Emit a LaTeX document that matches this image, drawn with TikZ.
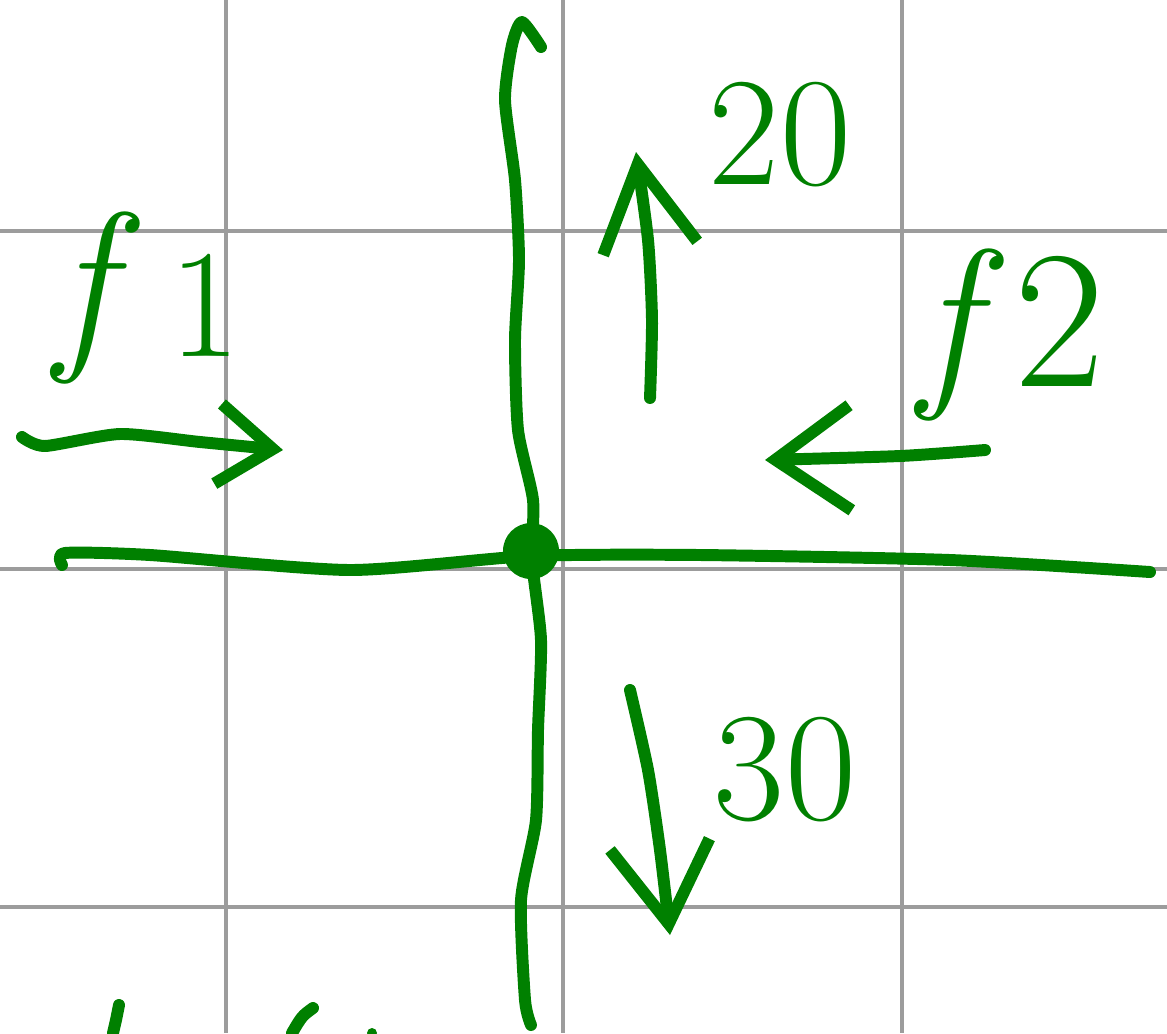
\documentclass[tikz,border=0pt]{standalone}
\usepackage{tikz}
\usetikzlibrary{arrows.meta}
\definecolor{penGreen}{HTML}{008000}
\definecolor{gridGray}{HTML}{9C9C9C}

\begin{document}
\begin{tikzpicture}[x=0.01cm, y=-0.01cm,
    grid line/.style={gridGray, line width=1.4pt},
    ink/.style={penGreen, line width=3.4pt, line cap=round, line join=round},
    force/.style 2 args={ink, -{Straight Barb[length=#1, width=#2, line width=3.4pt]}},
    hand/.style={penGreen, inner sep=0pt, font=\fontsize{44}{44}\selectfont}
  ]
  \useasboundingbox (0,0) rectangle (1167,1033);
  \fill[white] (0,0) rectangle (1167,1033);

  % grid
  \foreach \gx in {226,563,902}
    \draw[grid line] (\gx,0) -- (\gx,1033);
  \foreach \gy in {231,569,907}
    \draw[grid line] (0,\gy) -- (1167,\gy);

  % axes
  \draw[ink] plot[smooth, tension=0.4] coordinates
    {(541,47) (522,22) (512,45) (505,100) (515,180) (519,260) (515,340)
     (518,430) (533,500) (532,560) (541,640) (538,730) (536,820)
     (521,900) (525,1000) (531,1025)};
  \draw[ink] plot[smooth, tension=0.4] coordinates
    {(62,565) (65,553) (150,555) (350,570) (530,556) (700,555)
     (950,560) (1150,572)};
  \node[circle, fill=penGreen, minimum size=0.56cm, inner sep=0pt] (origin) at (531,551) {};

  % forces
  \draw[force={0.55cm}{0.8cm}] plot[smooth, tension=0.4] coordinates
    {(22,437) (45,446) (120,434) (200,442) (283,450)};
  \draw[force={0.85cm}{0.95cm}] plot[smooth, tension=0.4] coordinates
    {(650,398) (652,320) (648,240) (636,152)};
  \draw[force={0.75cm}{1.05cm}] plot[smooth, tension=0.4] coordinates
    {(985,450) (900,456) (765,460)};
  \draw[force={0.8cm}{1.0cm}] plot[smooth, tension=0.4] coordinates
    {(630,690) (648,770) (660,850) (670,935)};

  % labels
  \node[hand] (f1) at (148,298)
    {\fontsize{54}{54}\selectfont\itshape f\hspace{0.3em}\raisebox{-0.06em}{\upshape\fontsize{44}{44}\selectfont 1}};
  \node[hand] (f2) at (1012,335)
    {\fontsize{54}{54}\selectfont\itshape f\hspace{0.2em}\raisebox{-0.02em}{\upshape\fontsize{56}{56}\selectfont 2}};
  \node[hand] (up) at (780,135) {20};
  \node[hand] (down) at (785,770) {30};

  % cut off at the bottom
  \draw[ink] (119,1005) -- (116,1020) -- (113,1033);
  \draw[ink] (313,1008) .. controls (302,1016) .. (292,1033);
  \fill[penGreen] (372,1033) circle[radius=0.05cm];
\end{tikzpicture}
\end{document}
